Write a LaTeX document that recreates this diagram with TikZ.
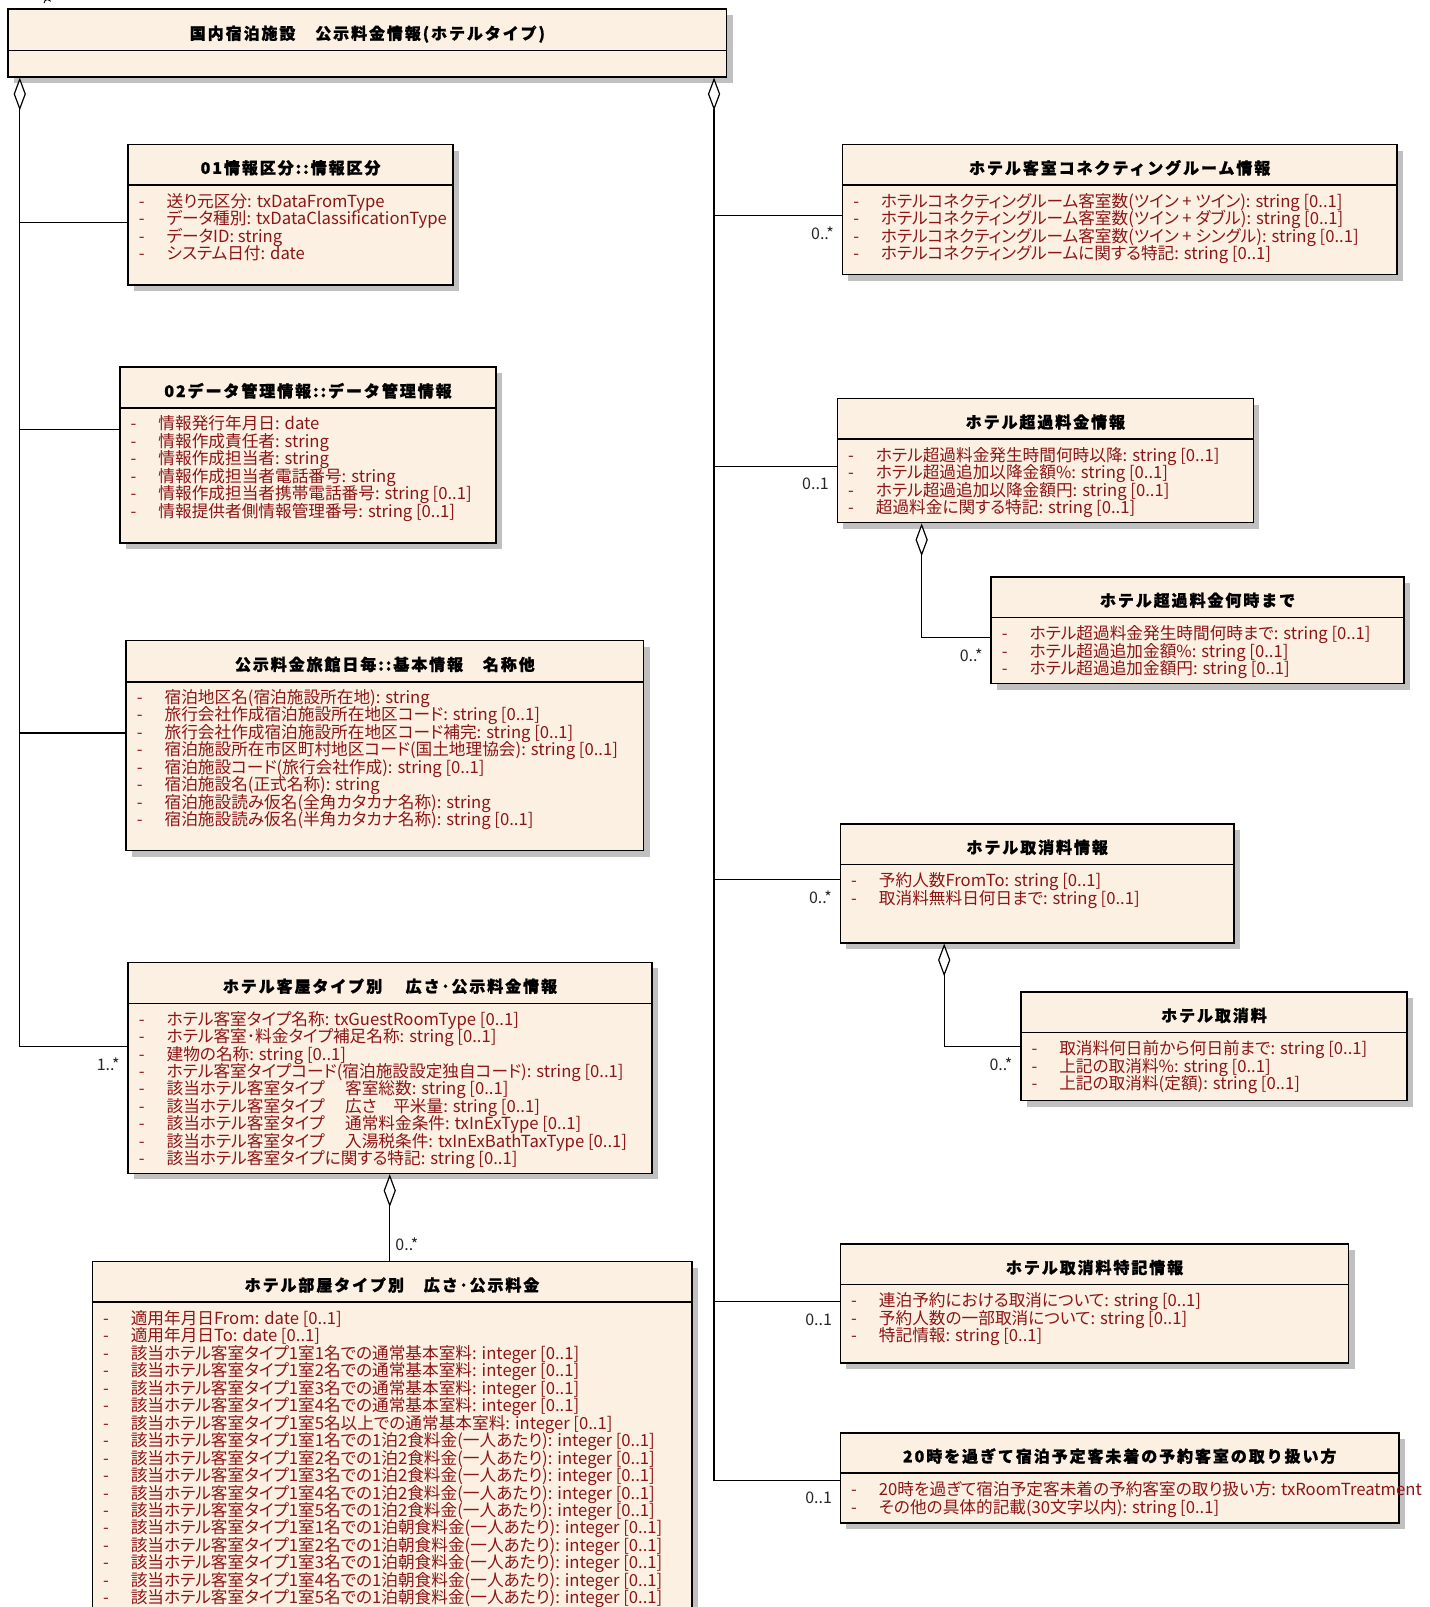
\documentclass[tikz,border=0pt]{standalone}
\usepackage{fontspec}
\usepackage{tikz}
\usetikzlibrary{arrows.meta,positioning,fit,calc,shadows}
\newfontfamily\jpfont{Noto Sans CJK JP}[RawFeature=+palt]
\newfontfamily\jphead{Noto Sans CJK JP}[LetterSpace=12, BoldFeatures={FakeBold=1.2}]
\definecolor{ClassFill}{RGB}{251,240,226}
\definecolor{AttrRed}{RGB}{140,22,22}
\definecolor{ShadowGray}{RGB}{192,192,192}
\newcommand{\attrdash}{\makebox[20.8pt][l]{-}}
\newcommand{\attrfont}{\jpfont\fontsize{12.5}{13.1}\selectfont\lineskiplimit=-100pt\relax}

\begin{document}
\begin{tikzpicture}[
  x=0.7688pt, y=-0.7688pt,
  cls/.style={
    draw,
    fill=ClassFill,
    line width=1.1pt,
    inner sep=0pt,
    drop shadow={shadow xshift=4.5pt, shadow yshift=-4.5pt, fill=ShadowGray, opacity=1}
  },
  divider/.style={line width=1.1pt},
  clstitle/.style={font=\jphead\bfseries\fontsize{12}{13}\selectfont, inner sep=0pt},
  attrlist/.style={
    font=\attrfont,
    text=AttrRed,
    align=left,
    anchor=north west,
    inner sep=0pt
  },
  conn/.style={line width=0.9pt},
  agg/.style={{Diamond[fill=white, length=24.6pt, width=9.2pt]}-, line width=0.9pt},
  mult/.style={font=\jpfont\fontsize{12}{13}\selectfont, text=black!85, inner sep=0pt}
]
\useasboundingbox (0,0) rectangle (1395,1568);

\draw[line width=0.7pt] (43,3) arc[start angle=180, end angle=330, radius=3.5];

\node[cls, fit={(8,9) (709,75)}] (root) {};
\node[clstitle] (root-t) at ($(root.north)+(0,25)$) {国内宿泊施設　公示料金情報(ホテルタイプ)};
\draw[divider] ($(root.north west)+(0,41)$) -- ($(root.north east)+(0,41)$);

\node[cls, fit={(125,141) (442,278)}] (dataclass) {};
\node[clstitle] (dataclass-t) at ($(dataclass.north)+(0,23.5)$) {01情報区分::情報区分};
\draw[divider] ($(dataclass.north west)+(0,40)$) -- ($(dataclass.north east)+(0,40)$);
\node[attrlist] (dataclass-a) at ($(dataclass.north west)+(11,48)$) {%
  \attrdash 送り元区分: txDataFromType\\
  \attrdash データ種別: txDataClassificationType\\
  \attrdash データID: string\\
  \attrdash システム日付: date};

\node[cls, fit={(117,358) (484,530)}] (datamgmt) {};
\node[clstitle] (datamgmt-t) at ($(datamgmt.north)+(0,24)$) {02データ管理情報::データ管理情報};
\draw[divider] ($(datamgmt.north west)+(0,41)$) -- ($(datamgmt.north east)+(0,41)$);
\node[attrlist] (datamgmt-a) at ($(datamgmt.north west)+(11,48)$) {%
  \attrdash 情報発行年月日: date\\
  \attrdash 情報作成責任者: string\\
  \attrdash 情報作成担当者: string\\
  \attrdash 情報作成担当者電話番号: string\\
  \attrdash 情報作成担当者携帯電話番号: string [0..1]\\
  \attrdash 情報提供者側情報管理番号: string [0..1]};

\node[cls, fit={(123,625) (628,830)}] (basicinfo) {};
\node[clstitle] (basicinfo-t) at ($(basicinfo.north)+(0,24)$) {公示料金旅館日毎::基本情報　名称他};
\draw[divider] ($(basicinfo.north west)+(0,41)$) -- ($(basicinfo.north east)+(0,41)$);
\node[attrlist] (basicinfo-a) at ($(basicinfo.north west)+(11,48)$) {%
  \attrdash 宿泊地区名(宿泊施設所在地): string\\
  \attrdash 旅行会社作成宿泊施設所在地区コード: string [0..1]\\
  \attrdash 旅行会社作成宿泊施設所在地区コード補完: string [0..1]\\
  \attrdash 宿泊施設所在市区町村地区コード(国土地理協会): string [0..1]\\
  \attrdash 宿泊施設コード(旅行会社作成): string [0..1]\\
  \attrdash 宿泊施設名(正式名称): string\\
  \attrdash 宿泊施設読み仮名(全角カタカナ名称): string\\
  \attrdash 宿泊施設読み仮名(半角カタカナ名称): string [0..1]};

\node[cls, fit={(125,939) (636,1145)}] (roomtype) {};
\node[clstitle] (roomtype-t) at ($(roomtype.north)+(0,24)$) {ホテル客屋タイプ別　 広さ･公示料金情報};
\draw[divider] ($(roomtype.north west)+(0,41)$) -- ($(roomtype.north east)+(0,41)$);
\node[attrlist] (roomtype-a) at ($(roomtype.north west)+(11,48)$) {%
  \attrdash ホテル客室タイプ名称: txGuestRoomType [0..1]\\
  \attrdash ホテル客室･料金タイプ補足名称: string [0..1]\\
  \attrdash 建物の名称: string [0..1]\\
  \attrdash ホテル客室タイプコード(宿泊施設設定独自コード): string [0..1]\\
  \attrdash 該当ホテル客室タイプ　 客室総数: string [0..1]\\
  \attrdash 該当ホテル客室タイプ　 広さ　平米量: string [0..1]\\
  \attrdash 該当ホテル客室タイプ　 通常料金条件: txInExType [0..1]\\
  \attrdash 該当ホテル客室タイプ　 入湯税条件: txInExBathTaxType [0..1]\\
  \attrdash 該当ホテル客室タイプに関する特記: string [0..1]};

\node[cls, fit={(90,1231) (675,1600)}] (roomrate) {};
\node[clstitle] (roomrate-t) at ($(roomrate.north)+(0,23.5)$) {ホテル部屋タイプ別　広さ･公示料金};
\draw[divider] ($(roomrate.north west)+(0,40)$) -- ($(roomrate.north east)+(0,40)$);
\node[attrlist] (roomrate-a) at ($(roomrate.north west)+(11,48)$) {%
  \attrdash 適用年月日From: date [0..1]\\
  \attrdash 適用年月日To: date [0..1]\\
  \attrdash 該当ホテル客室タイプ1室1名での通常基本室料: integer [0..1]\\
  \attrdash 該当ホテル客室タイプ1室2名での通常基本室料: integer [0..1]\\
  \attrdash 該当ホテル客室タイプ1室3名での通常基本室料: integer [0..1]\\
  \attrdash 該当ホテル客室タイプ1室4名での通常基本室料: integer [0..1]\\
  \attrdash 該当ホテル客室タイプ1室5名以上での通常基本室料: integer [0..1]\\
  \attrdash 該当ホテル客室タイプ1室1名での1泊2食料金(一人あたり): integer [0..1]\\
  \attrdash 該当ホテル客室タイプ1室2名での1泊2食料金(一人あたり): integer [0..1]\\
  \attrdash 該当ホテル客室タイプ1室3名での1泊2食料金(一人あたり): integer [0..1]\\
  \attrdash 該当ホテル客室タイプ1室4名での1泊2食料金(一人あたり): integer [0..1]\\
  \attrdash 該当ホテル客室タイプ1室5名での1泊2食料金(一人あたり): integer [0..1]\\
  \attrdash 該当ホテル客室タイプ1室1名での1泊朝食料金(一人あたり): integer [0..1]\\
  \attrdash 該当ホテル客室タイプ1室2名での1泊朝食料金(一人あたり): integer [0..1]\\
  \attrdash 該当ホテル客室タイプ1室3名での1泊朝食料金(一人あたり): integer [0..1]\\
  \attrdash 該当ホテル客室タイプ1室4名での1泊朝食料金(一人あたり): integer [0..1]\\
  \attrdash 該当ホテル客室タイプ1室5名での1泊朝食料金(一人あたり): integer [0..1]};

\node[cls, fit={(822,141) (1363,268)}] (connecting) {};
\node[clstitle] (connecting-t) at ($(connecting.north)+(0,23.5)$) {ホテル客室コネクティングルーム情報};
\draw[divider] ($(connecting.north west)+(0,40)$) -- ($(connecting.north east)+(0,40)$);
\node[attrlist] (connecting-a) at ($(connecting.north west)+(11,48)$) {%
  \attrdash ホテルコネクティングルーム客室数(ツイン + ツイン): string [0..1]\\
  \attrdash ホテルコネクティングルーム客室数(ツイン + ダブル): string [0..1]\\
  \attrdash ホテルコネクティングルーム客室数(ツイン + シングル): string [0..1]\\
  \attrdash ホテルコネクティングルームに関する特記: string [0..1]};

\node[cls, fit={(817,389) (1223,510)}] (surcharge) {};
\node[clstitle] (surcharge-t) at ($(surcharge.north)+(0,23.5)$) {ホテル超過料金情報};
\draw[divider] ($(surcharge.north west)+(0,40)$) -- ($(surcharge.north east)+(0,40)$);
\node[attrlist] (surcharge-a) at ($(surcharge.north west)+(11,48)$) {%
  \attrdash ホテル超過料金発生時間何時以降: string [0..1]\\
  \attrdash ホテル超過追加以降金額\%: string [0..1]\\
  \attrdash ホテル超過追加以降金額円: string [0..1]\\
  \attrdash 超過料金に関する特記: string [0..1]};

\node[cls, fit={(967,563) (1370,667)}] (surchargeuntil) {};
\node[clstitle] (surchargeuntil-t) at ($(surchargeuntil.north)+(0,23.5)$) {ホテル超過料金何時まで};
\draw[divider] ($(surchargeuntil.north west)+(0,40)$) -- ($(surchargeuntil.north east)+(0,40)$);
\node[attrlist] (surchargeuntil-a) at ($(surchargeuntil.north west)+(11,48)$) {%
  \attrdash ホテル超過料金発生時間何時まで: string [0..1]\\
  \attrdash ホテル超過追加金額\%: string [0..1]\\
  \attrdash ホテル超過追加金額円: string [0..1]};

\node[cls, fit={(820,804) (1204,920)}] (cancel) {};
\node[clstitle] (cancel-t) at ($(cancel.north)+(0,23.5)$) {ホテル取消料情報};
\draw[divider] ($(cancel.north west)+(0,40)$) -- ($(cancel.north east)+(0,40)$);
\node[attrlist] (cancel-a) at ($(cancel.north west)+(11,48)$) {%
  \attrdash 予約人数FromTo: string [0..1]\\
  \attrdash 取消料無料日何日まで: string [0..1]};

\node[cls, fit={(996,968) (1373,1074)}] (cancelfee) {};
\node[clstitle] (cancelfee-t) at ($(cancelfee.north)+(0,23.5)$) {ホテル取消料};
\draw[divider] ($(cancelfee.north west)+(0,40)$) -- ($(cancelfee.north east)+(0,40)$);
\node[attrlist] (cancelfee-a) at ($(cancelfee.north west)+(11,48)$) {%
  \attrdash 取消料何日前から何日前まで: string [0..1]\\
  \attrdash 上記の取消料\%: string [0..1]\\
  \attrdash 上記の取消料(定額): string [0..1]};

\node[cls, fit={(820,1214) (1316,1330)}] (cancelnote) {};
\node[clstitle] (cancelnote-t) at ($(cancelnote.north)+(0,23.5)$) {ホテル取消料特記情報};
\draw[divider] ($(cancelnote.north west)+(0,40)$) -- ($(cancelnote.north east)+(0,40)$);
\node[attrlist] (cancelnote-a) at ($(cancelnote.north west)+(11,48)$) {%
  \attrdash 連泊予約における取消について: string [0..1]\\
  \attrdash 予約人数の一部取消について: string [0..1]\\
  \attrdash 特記情報: string [0..1]};

\node[cls, fit={(820,1398) (1365,1486)}] (latearrival) {};
\node[clstitle] (latearrival-t) at ($(latearrival.north)+(0,23.5)$) {20時を過ぎて宿泊予定客未着の予約客室の取り扱い方};
\draw[divider] ($(latearrival.north west)+(0,40)$) -- ($(latearrival.north east)+(0,40)$);
\node[attrlist] (latearrival-a) at ($(latearrival.north west)+(11,48)$) {%
  \attrdash 20時を過ぎて宿泊予定客未着の予約客室の取り扱い方: txRoomTreatment\\
  \attrdash その他の具体的記載(30文字以内): string [0..1]};

\coordinate (aggL) at ($(root.south west)+(12,0)$);
\coordinate (aggR) at ($(root.south east)+(-13,0)$);

\draw[agg] (aggL) |- ($(roomtype.north west)+(0,83)$)
  node[mult, pos=1, anchor=east, shift={(-7,17)}]{1..*};
\draw[conn] (aggL |- {$(dataclass.north west)+(0,77)$}) -- ($(dataclass.north west)+(0,77)$);
\draw[conn] (aggL |- {$(datamgmt.north west)+(0,62)$}) -- ($(datamgmt.north west)+(0,62)$);
\draw[conn] (aggL |- {$(basicinfo.north west)+(0,91)$}) -- ($(basicinfo.north west)+(0,91)$);

\draw[agg] (aggR) |- ($(latearrival.north west)+(0,47)$)
  node[mult, pos=1, anchor=east, shift={(-7,17)}]{0..1};
\draw[conn] (aggR |- {$(connecting.north west)+(0,70)$}) -- ($(connecting.north west)+(0,70)$)
  node[mult, pos=1, anchor=east, shift={(-7,17)}]{0..*};
\draw[conn] (aggR |- {$(surcharge.north west)+(0,67)$}) -- ($(surcharge.north west)+(0,67)$)
  node[mult, pos=1, anchor=east, shift={(-7,17)}]{0..1};
\draw[conn] (aggR |- {$(cancel.north west)+(0,55)$}) -- ($(cancel.north west)+(0,55)$)
  node[mult, pos=1, anchor=east, shift={(-7,17)}]{0..*};
\draw[conn] (aggR |- {$(cancelnote.north west)+(0,57)$}) -- ($(cancelnote.north west)+(0,57)$)
  node[mult, pos=1, anchor=east, shift={(-7,17)}]{0..1};

\draw[agg] ($(roomtype.south west)+(256,0)$) -- ($(roomrate.north west)+(291,0)$)
  node[mult, pos=1, anchor=west, shift={(5,-16)}]{0..*};
\draw[agg] ($(surcharge.south west)+(83,0)$) |- ($(surchargeuntil.north west)+(0,60)$)
  node[mult, pos=1, anchor=east, shift={(-7,17)}]{0..*};
\draw[agg] ($(cancel.south west)+(102,0)$) |- ($(cancelfee.north west)+(0,54)$)
  node[mult, pos=1, anchor=east, shift={(-7,17)}]{0..*};
\end{tikzpicture}
\end{document}
